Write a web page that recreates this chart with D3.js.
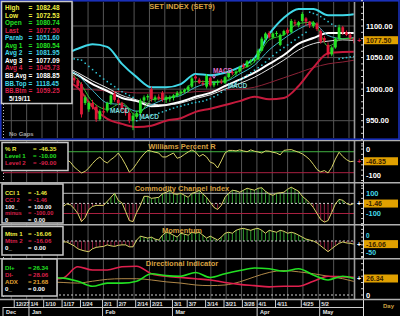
<!DOCTYPE html>
<html lang="en">
<head>
<meta charset="UTF-8">
<title>SET INDEX (SET9)</title>
<script src="https://d3js.org/d3.v7.min.js"></script>
<style>
  body { margin: 0; background: #000; }
  svg text { font-family: "Liberation Sans", Arial, sans-serif; font-weight: bold; }
</style>
</head>
<body>
<svg width="400" height="316"></svg>
<script>

// ---- data ----
var dates = ['12/22','12/23','12/24','12/27','12/28','12/29','12/30',
  '1/4','1/5','1/6','1/7','1/10','1/11','1/12','1/13','1/14','1/17','1/18','1/19','1/20','1/21','1/24','1/25','1/26','1/27','1/28','1/31',
  '2/1','2/2','2/3','2/4','2/7','2/8','2/9','2/10','2/11','2/14','2/15','2/16','2/17','2/21','2/22','2/23','2/24','2/25','2/28',
  '3/1','3/2','3/3','3/4','3/7','3/8','3/9','3/10','3/11','3/14','3/15','3/16','3/17','3/18','3/21','3/22','3/23','3/24','3/25','3/28','3/29','3/30','3/31',
  '4/1','4/4','4/5','4/7','4/8','4/11','4/12','4/18','4/19','4/20','4/21','4/22','4/25','4/26','4/27','4/28','4/29',
  '5/2','5/3','5/4','5/6','5/9','5/10','5/11','5/12','5/18','5/19'];

var open  = [1030,1033,1031,1032,1034,1038,1035,1032,1044,1047,1039,1034,1028,1033,1038,1036,1030,1031,1024,1018,1014,1008,978,968,978,972,952,965,966,978,
  993,983,978,968,962,950,956,962,982,987,1000,984,988,994,983,984,986,990,994,996,998,1004,1020,1015,1010,1004,1018,1006,1010,1012,
  1010,1019,1027,1025,1028,1038,1035,1044,1046,1047,1061,1080,1089,1082,1088,1070,1086,1094,1090,1106,1101,1108,1112,1107,1100,1104,
  1092,1081,1070,1055,1066,1080,1098,1090,1086,1080.74];
var high  = [1035,1036,1034,1036,1040,1041,1037,1046,1050,1049,1042,1037,1035,1040,1042,1038,1034,1033,1027,1022,1017,1011,990,981,983,975,968,972,980,992,
  997,986,980,972,965,962,966,985,990,992,1004,990,992,997,990,990,992,997,999,1001,1006,1020,1023,1018,1014,1024,1020,1012,1015,1016,
  1021,1029,1030,1030,1037,1041,1046,1048,1050,1064,1083,1090,1092,1090,1092,1088,1094,1097,1111,1110,1108,1122,1114,1108,1108,1106,
  1095,1084,1074,1068,1082,1102,1100,1093,1089,1082.48];
var low   = [1027,1029,1028,1030,1032,1033,1028,1031,1040,1036,1030,1025,1024,1030,1033,1027,1024,1020,1016,1010,1003,955,975,964,968,948,950,960,963,975,
  980,975,965,958,946,935,953,960,978,982,980,980,982,980,978,980,982,987,990,993,995,1002,1015,1008,1005,1001,1004,1003,1006,1008,
  1008,1017,1022,1021,1026,1032,1034,1040,1042,1046,1060,1075,1080,1080,1084,1068,1084,1086,1088,1100,1098,1106,1100,1097,1097,1092,
  1072,1074,1049,1052,1064,1078,1086,1084,1078,1072.53];
var close = [1033,1031,1032,1034,1038,1035,1032,1044,1047,1039,1034,1028,1033,1038,1036,1030,1031,1024,1018,1014,1005,960,987,978,972,952,965,963,978,990,
  983,978,968,962,950,958,962,982,987,989,984,987,985,983,987,986,990,994,996,999,1004,1017,1017,1010,1008,1021,1006,1010,1012,1011,
  1019,1027,1025,1028,1034,1035,1044,1046,1047,1061,1080,1088,1082,1088,1089,1086,1092,1089,1108,1104,1106,1119,1107,1101,1105,1095,
  1075,1077,1055,1066,1080,1098,1090,1086,1081,1077.50];

var sar = [1012,1014,1016,1017,1019,1021,1023,1025,1027,1030,1032,
  1052,1052,1051,1051,1050,1050,1049,1049,1048,1047,
  1046,1041,1036,1031,1026,1021,1016,1012,1008,1004,1000,996,993,990,987,
  950,952,954,956,958,960,962,964,966,968,970,972,973,975,976,978,979,
  980,981,983,985,988,991,995,999,1002,1006,1010,1014,1018,1022,1026,1030,1034,1038,1043,1048,1053,1058,1062,1066,1070,1074,1078,1082,1086,1090,
  1122,1120,1118,1115,1111,1107,1103,1100,
  1048,1049,1050,1051,1051.6];

// moving averages / bands sampled every 4th bar (plus last bar)
var lineIdx = [0,4,8,12,16,20,24,28,32,36,40,44,48,52,56,60,64,68,72,76,80,84,88,92,95];
var bbTop = [1054,1059,1062,1059,1056,1064,1071,1067,1040,1019,1003,1003,1008,1024,1022,1026,1035,1049,1087,1113,1127,1127,1117,1117,1118.45];
var bbAvg = [1037,1038,1041,1040,1034,1022,1008,997,986,981,973,975,980,988,994,1005,1015,1026,1040,1054,1072,1081,1089,1089,1088.85];
var bbBtm = [1018,1021,1021,1019,1015,1002,972,953,945,940,942,950,954,964,969,975,981,988,984,986,1005,1034,1057,1059,1059.25];
var avg1  = [1032,1035,1040,1035,1032,1015,980,968,978,958,983,986,993,1012,1012,1013,1030,1043,1078,1086,1104,1106,1068,1080,1080.54];
var avg2  = [1031,1033,1037,1037,1033,1022,998,978,975,965,975,985,990,1003,1010,1012,1024,1038,1062,1080,1095,1104,1085,1080,1081.95];
var avg3  = [1035,1036,1039,1040,1036,1026,1013,1002,990,983,976,975,978,985,991,1000,1009,1019,1032,1046,1062,1072,1076,1078,1077.09];
var avg4  = [1005,1003,1002,1002,1000,1000,999,997,996,994,994,994,994,996,997,999,1000,1003,1010,1018,1026,1034,1040,1043,1045.73];

var wpr = [-40,-30,-20,-10,-5,-12,-8,-3,-5,-15,-30,-50,-45,-30,-40,-55,-45,-40,-50,-68,
  -80,-91,-85,-72,-55,-40,-30,-45,-53,-40,-30,-15,-35,-60,-88,-75,-55,-35,-18,-5,
  -8,-12,-15,-30,-30,-22,-15,-35,-30,-20,-11,-3,-11,-28,-20,-30,-50,-55,-72,-45,
  -15,-5,-5,-7,-3,-7,-10,-3,-8,-11,-15,-7,-8,-12,-15,-22,-5,-3,-2,-7,
  -12,-18,-28,-40,-58,-78,-87,-82,-91,-70,-38,-12,-28,-40,-48,-46.35];
var cci = [40,60,80,90,120,140,100,130,150,80,20,-40,-20,30,10,-50,-30,-5,-15,-50,
  -100,-180,-140,-60,-30,-20,-20,-20,20,60,100,30,5,-80,-170,-180,-90,-20,70,70,
  50,55,60,95,110,130,95,90,100,80,60,100,110,130,95,60,10,-40,-60,-20,
  60,100,130,125,110,130,150,140,130,150,155,120,95,80,100,105,110,140,160,140,
  120,70,40,5,-40,-100,-160,-185,-170,-90,-5,40,30,0,-15,-1.46];
var mom = [20,25,30,35,40,35,25,35,45,30,10,-5,0,10,5,-10,-5,-5,-15,-25,
  -40,-47,-52,-55,-40,-33,-30,-28,-20,-25,-28,-22,-20,-20,-30,-30,5,25,20,15,
  20,10,5,30,45,40,30,20,40,35,30,45,40,45,30,15,25,15,5,20,
  40,45,40,55,62,65,60,55,62,65,55,40,55,50,45,55,50,40,45,40,
  30,20,10,5,0,-10,-25,-40,-55,-40,-25,-12,-5,-10,-12,-16.06];

var diPlus  = [30,28,30,28,27,22,14,19,19,22,34,31,30,36,28,34,39,43,42,38,42,32,24,30,26.34];
var diMinus = [25,24,22,24,27,45,40,40,45,46,34,30,28,26,24,20,17,15,13,14,14,22,30,29,28.06];
var adx     = [20,21,22,21,20,19,22,25,26,26,24,21,19,16,15,16,21,29,36,39,37,34,30,26,21.68];

var tickDates = ['12/27','1/4','1/10','1/17','1/24','2/1','2/7','2/14','2/21','3/1','3/7','3/14','3/21','3/28','4/1','4/11','4/25','5/2'];
var monthNames = ['Dec','Jan','Feb','Mar','Apr','May'];
var monthStarts = ['12/22','1/4','2/1','3/1','4/1','5/2'];
var priceTicks = [950,1000,1050,1100];

var signalIdx = [29,37,57,61];
var signalPrice = [966,956,1029,1006];
var signalKind = ['buy','buy','sell','buy'];

var mainLegend = [['High','1082.48'],['Low','1072.53'],['Open','1080.74'],['Last','1077.50'],['Parab','1051.60'],
  ['Avg 1','1080.54'],['Avg 2','1081.95'],['Avg 3','1077.09'],['Avg 4','1045.73'],
  ['BB.Avg','1088.85'],['BB.Top','1118.45'],['BB.Btm','1059.25']];
var wprLegend = [['% R','-46.35'],['Level 1','-10.00'],['Level 2','-90.00']];
var cciLegend = [['CCI 1','-1.46'],['CCI 2','-1.46'],['100_','100.00'],['minus','-100.00'],['0','0.00']];
var momLegend = [['Mtm 1','-16.06'],['Mtm 2','-16.06'],['0_','0.00']];
var diLegend  = [['DI+','26.34'],['DI-','28.06'],['ADX','21.68'],['0_','0.00']];

// ---- colours ----
var YEL = '#f0f040', GRN = '#22e022', RED = '#d8204a', CYA = '#40d8e8', WHT = '#ffffff', GOLD = '#d8a040';
var OSC = '#d8d468';

var svg = d3.select('svg');
svg.append('rect').attr('width', 400).attr('height', 316).attr('fill', '#000');

var x = d3.scaleLinear().domain([0, dates.length - 1]).range([4.2, 353.8]);
var yP = d3.scaleLinear().domain([950, 1100]).range([120.7, 26]);
var yW = d3.scaleLinear().domain([-100, 0]).range([175.3, 149.1]);
var yC = d3.scaleLinear().domain([-100, 100]).range([213.5, 193.3]);
var yM = d3.scaleLinear().domain([-50, 0]).range([250.7, 241]);
var yD = d3.scaleLinear().domain([0, 26.34]).range([295, 278.5]);

var panels = [[2, 138], [141, 182], [183.5, 224], [225.5, 258], [259.5, 299]];
var defs = svg.append('defs');
panels.forEach(function (p, k) {
  defs.append('clipPath').attr('id', 'clip' + k).append('rect')
    .attr('x', 3).attr('y', p[0]).attr('width', 351).attr('height', p[1] - p[0]);
});

// vertical grid in every panel
var gridX = d3.range(-4, 19).map(function (k) { return 72.7 + k * 15.35; });
panels.forEach(function (p) {
  svg.append('g').selectAll('line').data(gridX).enter().append('line')
    .attr('x1', function (d) { return d; }).attr('x2', function (d) { return d; })
    .attr('y1', p[0]).attr('y2', p[1]).attr('stroke', '#555').attr('stroke-width', 1);
});

// main horizontal grid
svg.append('g').selectAll('line').data(priceTicks).enter().append('line')
  .attr('x1', 3).attr('x2', 354).attr('y1', function (d) { return yP(d); }).attr('y2', function (d) { return yP(d); })
  .attr('stroke', '#555');

function sampled(values, ys) {
  return d3.line().x(function (v, k) { return x(lineIdx[k]); }).y(function (v) { return ys(v); })
    .curve(d3.curveMonotoneX)(values);
}
function daily(values, ys) {
  return d3.line().x(function (v, i) { return x(i); }).y(function (v) { return ys(v); })(values);
}

// ---- main panel ----
var gm = svg.append('g').attr('clip-path', 'url(#clip0)');
[[avg4, '#8c2236', 1], [bbBtm, '#c41a3c', 2], [bbTop, CYA, 2], [bbAvg, WHT, 2], [avg3, '#e0e0e0', 1],
 [avg2, '#40b8c8', 1], [avg1, '#30c030', 1]].forEach(function (s) {
  gm.append('path').attr('d', sampled(s[0], yP)).attr('fill', 'none').attr('stroke', s[1]).attr('stroke-width', s[2]);
});

gm.selectAll('rect.sar').data(sar).enter().append('rect')
  .attr('x', function (v, i) { return x(i) - 0.7; }).attr('y', function (v) { return yP(v) - 0.7; })
  .attr('width', 1.5).attr('height', 1.5).attr('fill', '#30c8d8');

var bars = d3.range(dates.length);
function candleColor(i) { return close[i] >= open[i] ? GRN : '#e01838'; }
gm.selectAll('line.wick').data(bars).enter().append('line')
  .attr('x1', function (i) { return x(i); }).attr('x2', function (i) { return x(i); })
  .attr('y1', function (i) { return yP(high[i]); }).attr('y2', function (i) { return yP(low[i]); })
  .attr('stroke', candleColor).attr('stroke-width', 1);
gm.selectAll('rect.body').data(bars).enter().append('rect')
  .attr('x', function (i) { return x(i) - 1.4; }).attr('width', 2.8)
  .attr('y', function (i) { return yP(Math.max(open[i], close[i])); })
  .attr('height', function (i) { return Math.max(1, Math.abs(yP(open[i]) - yP(close[i]))); })
  .attr('fill', candleColor);

signalIdx.forEach(function (si, k) {
  var c = signalKind[k] === 'sell' ? '#e070c8' : '#78d8d8';
  var px = x(si), py = yP(signalPrice[k]);
  gm.append('text').attr('x', px - 1).attr('y', py).attr('dominant-baseline', 'central')
    .attr('font-size', 6.5).attr('fill', c).text('MACD');
  if (signalKind[k] === 'sell') {
    gm.append('path').attr('d', 'M' + px + ',' + (py + 3) + 'V' + (py + 7) + 'M' + (px - 1.5) + ',' + (py + 5.5) + 'L' + px + ',' + (py + 7.5) + 'L' + (px + 1.5) + ',' + (py + 5.5))
      .attr('stroke', c).attr('fill', 'none');
  }
});

gm.append('text').attr('x', 9).attr('y', 134).attr('dominant-baseline', 'central')
  .attr('font-size', 6).attr('font-weight', 'normal').attr('fill', '#a0a0a0').text('No Gaps');

// ---- oscillator panels ----
var g1 = svg.append('g').attr('clip-path', 'url(#clip1)');
g1.append('line').attr('x1', 3).attr('x2', 354).attr('y1', yW(-10)).attr('y2', yW(-10)).attr('stroke', '#40b040');
g1.append('line').attr('x1', 3).attr('x2', 354).attr('y1', yW(-90)).attr('y2', yW(-90)).attr('stroke', '#a82040');
g1.append('path').attr('d', daily(wpr, yW)).attr('fill', 'none').attr('stroke', OSC).attr('stroke-width', 1);

function histPanel(k, values, ys) {
  var g = svg.append('g').attr('clip-path', 'url(#clip' + k + ')');
  g.selectAll('line.h').data(values).enter().append('line')
    .attr('x1', function (v, i) { return x(i); }).attr('x2', function (v, i) { return x(i); })
    .attr('y1', ys(0)).attr('y2', function (v) { return ys(v); })
    .attr('stroke', function (v) { return v >= 0 ? '#2e9a2e' : '#8e1e3e'; }).attr('stroke-width', 1);
  return g;
}
var g2 = histPanel(2, cci, yC);
g2.append('line').attr('x1', 3).attr('x2', 354).attr('y1', yC(100)).attr('y2', yC(100)).attr('stroke', '#b8b8b8');
g2.append('line').attr('x1', 3).attr('x2', 354).attr('y1', yC(-100)).attr('y2', yC(-100)).attr('stroke', '#a82040');
g2.append('line').attr('x1', 3).attr('x2', 354).attr('y1', yC(0)).attr('y2', yC(0)).attr('stroke', '#d0d0d0').attr('stroke-dasharray', '2,2');
g2.append('path').attr('d', daily(cci, yC)).attr('fill', 'none').attr('stroke', OSC);

var g3 = histPanel(3, mom, yM);
g3.append('line').attr('x1', 3).attr('x2', 354).attr('y1', yM(0)).attr('y2', yM(0)).attr('stroke', '#d0d0d0').attr('stroke-dasharray', '2,2');
g3.append('path').attr('d', daily(mom, yM)).attr('fill', 'none').attr('stroke', OSC);

var g4 = svg.append('g').attr('clip-path', 'url(#clip4)');
g4.append('line').attr('x1', 3).attr('x2', 354).attr('y1', yD(0)).attr('y2', yD(0)).attr('stroke', '#d0d0d0').attr('stroke-dasharray', '2,2');
g4.append('path').attr('d', sampled(adx, yD)).attr('fill', 'none').attr('stroke', '#b08848').attr('stroke-width', 1);
g4.append('path').attr('d', sampled(diMinus, yD)).attr('fill', 'none').attr('stroke', '#e0204e').attr('stroke-width', 1.6);
g4.append('path').attr('d', sampled(diPlus, yD)).attr('fill', 'none').attr('stroke', GRN).attr('stroke-width', 1.6);

// ---- titles ----
[['SET INDEX (SET9)', 6.5], ['Williams Percent R', 146.5], ['Commodity Channel Index', 188.5], ['Momentum', 230.5], ['Directional Indicator', 263.5]]
  .forEach(function (t) {
    svg.append('text').attr('x', 182).attr('y', t[1]).attr('text-anchor', 'middle').attr('dominant-baseline', 'central')
      .attr('font-size', 7.5).attr('fill', GOLD).text(t[0]);
  });

// ---- frames ----
svg.append('line').attr('x1', 354.5).attr('x2', 354.5).attr('y1', 2).attr('y2', 299).attr('stroke', '#9a9a9a').attr('stroke-width', 1.6);
svg.append('line').attr('x1', 3.5).attr('x2', 3.5).attr('y1', 2).attr('y2', 299).attr('stroke', '#bbb').attr('stroke-dasharray', '1,2');
svg.append('line').attr('x1', 363.5).attr('x2', 363.5).attr('y1', 2).attr('y2', 316).attr('stroke', '#ddd');
[140.5, 182.8, 224.8, 258.8, 299.5].forEach(function (yy) {
  svg.append('line').attr('x1', 0).attr('x2', 400).attr('y1', yy).attr('y2', yy).attr('stroke', '#b0b0b0').attr('stroke-width', 1.4);
});
svg.append('rect').attr('x', 0.8).attr('y', 0.8).attr('width', 398.2).attr('height', 138.4)
  .attr('fill', 'none').attr('stroke', '#1a30b8').attr('stroke-width', 1.6);

// ---- right axes ----
var ax = svg.append('g');
function minorTicks(ys, lo, hi, step) {
  d3.range(lo, hi + 0.001, step).forEach(function (v) {
    ax.append('line').attr('x1', 361).attr('x2', 363).attr('y1', ys(v)).attr('y2', ys(v)).attr('stroke', '#ccc');
  });
}
minorTicks(yP, 910, 1140, 10);
minorTicks(yW, -140, 30, 20);
minorTicks(yC, -200, 200, 50);
minorTicks(yM, -80, 80, 20);
minorTicks(yD, 0, 60, 10);

function axisLabel(yy, s, c, size) {
  ax.append('text').attr('x', 366).attr('y', yy).attr('dominant-baseline', 'central')
    .attr('font-size', size || 7.5).attr('fill', c).text(s);
}
priceTicks.forEach(function (v) { axisLabel(yP(v), d3.format('.2f')(v), WHT); });
axisLabel(yW(0), '0', WHT); axisLabel(yW(-100), '-100', WHT);
axisLabel(yC(100), '100', CYA); axisLabel(yC(-100), '-100', CYA);
// momentum: the value box sits on the zero line, so its labels are nudged clear of it
axisLabel(yM(0) - 5.3, '0', CYA, 6.5); axisLabel(yM(-50) + 2.2, '-50', CYA, 7);
axisLabel(yD(0), '0', WHT);

function valueBox(yy, s, plusColor) {
  ax.append('rect').attr('x', 364).attr('y', yy - 4).attr('width', 34).attr('height', 8).attr('fill', '#e0a000');
  ax.append('text').attr('x', 366).attr('y', yy).attr('dominant-baseline', 'central')
    .attr('font-size', 7).attr('font-weight', 'normal').attr('fill', '#3a2200').text(s);
  ax.append('text').attr('x', 359).attr('y', yy).attr('text-anchor', 'middle').attr('dominant-baseline', 'central')
    .attr('font-size', 7).attr('fill', plusColor).text('+');
}
valueBox(yP(close[close.length - 1]), '1077.50', RED);
valueBox(yW(wpr[wpr.length - 1]), '-46.35', RED);
valueBox(yC(cci[cci.length - 1]), '-1.46', WHT);
valueBox(yM(mom[mom.length - 1]), '-16.06', WHT);
valueBox(yD(diPlus[diPlus.length - 1]), '26.34', WHT);

// ---- legends ----
// squeeze a label into the room left of the "=" sign
function fit(sel, maxW) {
  var w = sel.node().getComputedTextLength();
  if (w > maxW) sel.attr('textLength', maxW).attr('lengthAdjust', 'spacingAndGlyphs');
}
function legend(x0, y0, w, h, rows, colors, eqX, valX, firstY, step, extra) {
  var size = Math.floor(step / 1.16 * 10) / 10;   // keep rows from touching
  var g = svg.append('g');
  g.append('rect').attr('x', x0).attr('y', y0).attr('width', w).attr('height', h)
    .attr('fill', '#000').attr('stroke', '#c8c8c8').attr('stroke-width', 1.5);
  rows.forEach(function (r, k) {
    var yy = firstY + k * step;
    var lab = g.append('text').attr('x', 5).attr('y', yy).attr('dominant-baseline', 'central')
      .attr('font-size', size).attr('fill', colors[k]).text(r[0]);
    fit(lab, eqX - 7);
    g.append('text').attr('x', eqX).attr('y', yy).attr('dominant-baseline', 'central')
      .attr('font-size', size).attr('fill', colors[k]).text('=');
    var val = g.append('text').attr('x', valX).attr('y', yy).attr('dominant-baseline', 'central')
      .attr('font-size', size).attr('fill', colors[k]).text(r[1]);
    fit(val, x0 + w - valX - 1.5);
  });
  if (extra) {
    g.append('text').attr('x', 9).attr('y', firstY + rows.length * step).attr('dominant-baseline', 'central')
      .attr('font-size', size).attr('fill', WHT).text(extra);
  }
}
legend(1.5, 1.5, 70.5, 102, mainLegend,
  [YEL, YEL, GRN, RED, CYA, GRN, CYA, WHT, RED, WHT, CYA, RED], 28.5, 36, 7.5, 7.55, '5/19/11');
legend(2, 142.5, 66, 28, wprLegend, [YEL, GRN, RED], 33, 39, 148.5, 7.1);
legend(2, 184, 61, 39, cciLegend, [YEL, RED, WHT, RED, WHT], 28, 34, 193.2, 6.7);
legend(2, 226.5, 61, 28.5, momLegend, [YEL, RED, WHT], 28, 34, 233.3, 7.1);
legend(2, 259, 55, 37, diLegend, [GRN, RED, '#e0a030', WHT], 28, 33, 267.3, 7.1);

// ---- date axis ----
var da = svg.append('g');
da.append('line').attr('x1', 3).attr('x2', 363).attr('y1', 307.5).attr('y2', 307.5).attr('stroke', '#ccc');
tickDates.forEach(function (d) {
  var px = x(dates.indexOf(d));
  da.append('line').attr('x1', px - 1).attr('x2', px - 1).attr('y1', 300).attr('y2', 307).attr('stroke', '#ccc');
  da.append('text').attr('x', px + 0.5).attr('y', 304).attr('dominant-baseline', 'central')
    .attr('font-size', 5.5).attr('font-weight', 'normal').attr('fill', '#e8e8e8').text(d);
});
monthStarts.forEach(function (d, k) {
  var px = k === 0 ? 3 : x(dates.indexOf(d)) - 1;
  da.append('line').attr('x1', px).attr('x2', px).attr('y1', 307).attr('y2', 316).attr('stroke', '#ccc');
  da.append('text').attr('x', px + 3).attr('y', 312).attr('dominant-baseline', 'central')
    .attr('font-size', 5.5).attr('font-weight', 'normal').attr('fill', '#e8e8e8').text(monthNames[k]);
});
da.append('text').attr('x', 383).attr('y', 306).attr('dominant-baseline', 'central')
  .attr('font-size', 6).attr('fill', '#c8a040').text('Day');

</script>
</body>
</html>
